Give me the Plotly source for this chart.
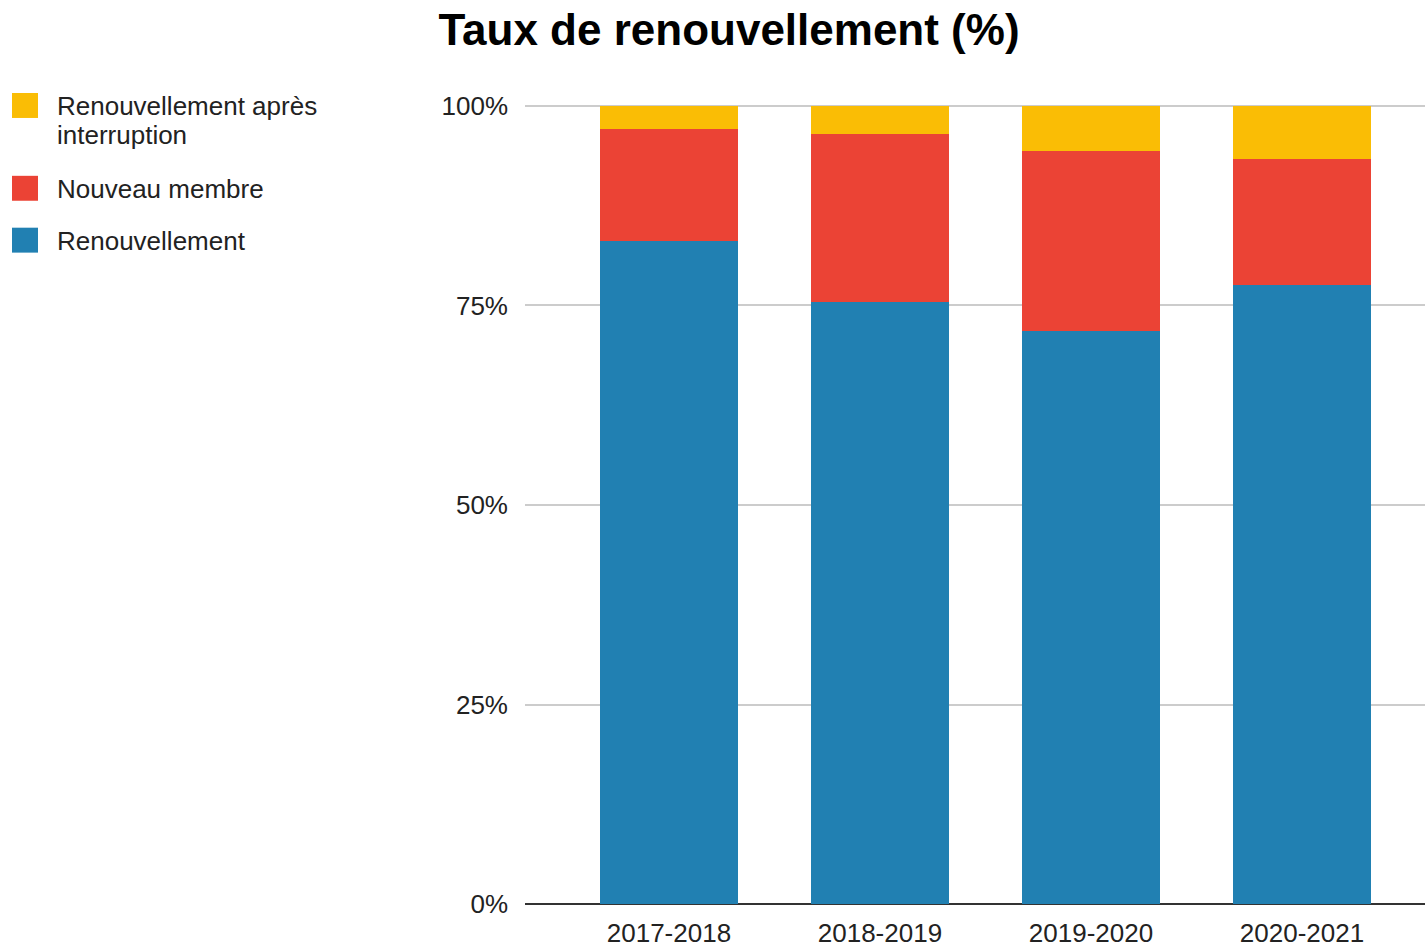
import plotly.graph_objects as go

periodes = ["2017-2018", "2018-2019", "2019-2020", "2020-2021"]
renouvellement = [83.1, 75.5, 71.8, 77.6]
nouveau_membre = [14.0, 21.0, 22.6, 15.7]
apres_interruption = [2.9, 3.5, 5.6, 6.7]
y_ticks = [0, 25, 50, 75, 100]
y_labels = [f"{v}%" for v in y_ticks]

BLEU = "#2180b2"
ROUGE = "#eb4335"
JAUNE = "#fabd05"
FONT = "Liberation Sans, Arial, sans-serif"

series = [
    ("Renouvellement", renouvellement, BLEU),
    ("Nouveau membre", nouveau_membre, ROUGE),
    ("Renouvellement après interruption", apres_interruption, JAUNE),
]

fig = go.Figure()
for nom, valeurs, couleur in series:
    fig.add_trace(
        go.Bar(
            x=periodes,
            y=valeurs,
            name=nom,
            marker_color=couleur,
            marker_line_width=0,
            width=0.654,
            showlegend=False,
        )
    )

# légende manuelle (pastilles carrées comme dans l'original)
W, H = 1425, 948
L, T, B = 525, 102, 42
pw, ph = W - L, H - T - B


def px_x(px):
    return (px - L) / pw


def px_y(py):
    return (H - B - py) / ph


legende = [
    (["Renouvellement après", "interruption"], JAUNE, [106, 135], 93),
    (["Nouveau membre"], ROUGE, [189], 176),
    (["Renouvellement"], BLEU, [241], 228),
]
for lignes, couleur, ys, ysw in legende:
    fig.add_shape(
        type="rect", xref="paper", yref="paper",
        x0=px_x(12), x1=px_x(38), y0=px_y(ysw + 25), y1=px_y(ysw),
        fillcolor=couleur, line_width=0,
    )
    for ligne, yl in zip(lignes, ys):
        fig.add_annotation(
            xref="paper", yref="paper", x=px_x(55), y=px_y(yl),
            xanchor="left", yanchor="middle", align="left", showarrow=False,
            text=ligne, font=dict(size=26, color="#222222", family=FONT),
        )

fig.update_layout(
    width=W,
    height=H,
    barmode="stack",
    showlegend=False,
    paper_bgcolor="white",
    plot_bgcolor="white",
    font=dict(family=FONT, color="#222222", size=26),
    margin=dict(l=L, r=0, t=T, b=B, pad=0),
    title=dict(
        text="<b>Taux de renouvellement (%)</b>",
        x=729 / W, xanchor="center",
        y=1 - 30 / H, yanchor="middle",
        font=dict(size=44, color="#000000", family=FONT),
    ),
)
fig.update_xaxes(
    range=[-0.682, 3.583],
    showgrid=False,
    showline=False,
    ticks="",
    ticklabelstandoff=11,
    tickfont=dict(size=26, color="#222222"),
)
fig.update_yaxes(
    range=[0, 100.5],
    tickvals=y_ticks,
    ticktext=y_labels,
    showgrid=True,
    gridcolor="#cccccc",
    gridwidth=2,
    zeroline=True,
    zerolinecolor="#333333",
    zerolinewidth=2,
    ticks="",
    ticklabelstandoff=16,
    tickfont=dict(size=26, color="#222222"),
)

fig.write_html(
    "out.html",
    config={"displayModeBar": False},
    post_script="document.body.style.margin='0';",
)
